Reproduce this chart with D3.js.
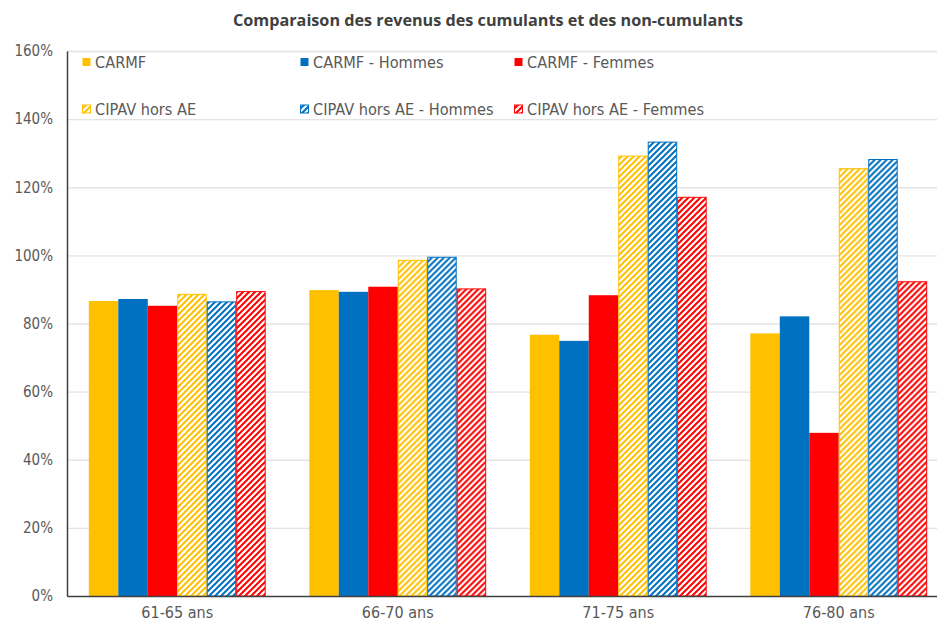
<!DOCTYPE html>
<html>
<head>
<meta charset="utf-8">
<script src="https://cdn.jsdelivr.net/npm/d3@7"></script>
<style>
  body { margin: 0; background: #fff; }
  text { font-family: "DejaVu Sans Condensed", "DejaVu Sans", sans-serif; }
</style>
</head>
<body>
<div id="chart"></div>
<script>
// categories and series
var categories = ["61-65 ans", "66-70 ans", "71-75 ans", "76-80 ans"];
var seriesNames = ["CARMF", "CARMF - Hommes", "CARMF - Femmes",
                   "CIPAV hors AE", "CIPAV hors AE - Hommes", "CIPAV hors AE - Femmes"];
var carmf        = [0.866, 0.898, 0.767, 0.771];
var carmfH       = [0.872, 0.893, 0.749, 0.821];
var carmfF       = [0.852, 0.908, 0.883, 0.479];
var cipav        = [0.887, 0.987, 1.293, 1.256];
var cipavH       = [0.865, 0.996, 1.334, 1.283];
var cipavF       = [0.895, 0.903, 1.172, 0.924];
var yTicks = [0, 0.2, 0.4, 0.6, 0.8, 1.0, 1.2, 1.4, 1.6];

var seriesValues = [carmf, carmfH, carmfF, cipav, cipavH, cipavF];
var colors = ["#FFC000", "#0070C0", "#FF0000", "#FFC000", "#0070C0", "#FF0000"];
var hatched = [false, false, false, true, true, true];

var width = 937, height = 623;
var margin = {left: 67, right: -12, top: 51, bottom: 27};

var svg = d3.select("#chart").append("svg")
            .attr("width", width)
            .attr("height", height);

// hatch patterns
var defs = svg.append("defs");
["#FFC000", "#0070C0", "#FF0000"].forEach(function(c, i){
  var p = defs.append("pattern")
      .attr("id", "hatch" + i)
      .attr("patternUnits", "userSpaceOnUse")
      .attr("width", 6)
      .attr("height", 6);
  p.append("rect").attr("width", 6).attr("height", 6).attr("fill", "#fff");
  p.append("path")
      .attr("d", "M0,6 L6,0 M-1.5,1.5 L1.5,-1.5 M4.5,7.5 L7.5,4.5")
      .attr("stroke", c)
      .attr("stroke-width", 2);
});
var fillFor = function(i){
  return hatched[i] ? "url(#hatch" + (i - 3) + ")" : colors[i];
};

var x0 = d3.scaleBand()
           .domain(categories)
           .range([margin.left, width - margin.right]);
var x1 = d3.scaleBand()
           .domain(d3.range(seriesNames.length))
           .range([0, x0.bandwidth()])
           .paddingOuter(0.74);
var y = d3.scaleLinear()
          .domain([0, 1.6])
          .range([height - margin.bottom, margin.top]);

// gridlines
svg.append("g")
   .selectAll("line")
   .data(yTicks.slice(1))
   .enter()
   .append("line")
   .attr("x1", margin.left)
   .attr("x2", width)
   .attr("y1", function(d){ return y(d) + 0.5; })
   .attr("y2", function(d){ return y(d) + 0.5; })
   .attr("stroke", "#e3e3e3")
   .attr("stroke-width", 1.3);

// bars
var groups = svg.append("g")
   .selectAll("g")
   .data(categories)
   .enter()
   .append("g")
   .attr("transform", function(d){ return "translate(" + x0(d) + ",0)"; });

groups.selectAll("rect")
   .data(function(d, ci){
     return seriesValues.map(function(vals, si){ return {s: si, v: vals[ci]}; });
   })
   .enter()
   .append("rect")
   .attr("x", function(d){ return x1(d.s) + (hatched[d.s] ? 0.5 : 0); })
   .attr("y", function(d){ return y(d.v) + (hatched[d.s] ? 0.5 : 0); })
   .attr("width", function(d){ return x1.bandwidth() - (hatched[d.s] ? 1 : 0); })
   .attr("height", function(d){ return y(0) - y(d.v) - (hatched[d.s] ? 0.5 : 0); })
   .attr("fill", function(d){ return fillFor(d.s); })
   .attr("stroke", function(d){ return hatched[d.s] ? colors[d.s] : "none"; })
   .attr("stroke-width", 1);

// axes
var yAxis = d3.axisLeft(y)
              .tickValues(yTicks)
              .tickFormat(d3.format(".0%"))
              .tickSize(0)
              .tickPadding(14);
var yg = svg.append("g")
   .attr("transform", "translate(" + margin.left + ",0)")
   .call(yAxis);
yg.select(".domain").attr("stroke", "#404040").attr("stroke-width", 1.5);
yg.selectAll("text").attr("fill", "#595959").style("font-size", "15px");

var xAxis = d3.axisBottom(x0).tickSize(0).tickPadding(11);
var xg = svg.append("g")
   .attr("transform", "translate(0," + y(0) + ")")
   .call(xAxis);
xg.select(".domain").attr("stroke", "#404040").attr("stroke-width", 1.5);
xg.selectAll("text").attr("fill", "#595959").style("font-size", "16px");

// title
svg.append("text")
   .attr("x", 488)
   .attr("y", 26)
   .attr("text-anchor", "middle")
   .attr("fill", "#404040")
   .style("font-family", "'Open Sans', sans-serif")
   .style("font-weight", "bold")
   .style("font-size", "16.2px")
   .text("Comparaison des revenus des cumulants et des non-cumulants");

// legend
var legendX = [82, 300, 514];
var legendY = [62, 109];
var legend = svg.append("g")
   .selectAll("g")
   .data(seriesNames)
   .enter()
   .append("g")
   .attr("transform", function(d, i){
     return "translate(" + legendX[i % 3] + "," + legendY[Math.floor(i / 3)] + ")";
   });
legend.append("rect")
   .attr("x", 0.5)
   .attr("y", -4)
   .attr("width", 8)
   .attr("height", 8)
   .attr("fill", function(d, i){ return fillFor(i); })
   .attr("stroke", function(d, i){ return hatched[i] ? colors[i] : "none"; });
legend.append("text")
   .attr("x", 13)
   .attr("y", 0)
   .attr("dy", "0.35em")
   .attr("fill", "#595959")
   .style("font-size", "16.2px")
   .text(function(d){ return d; });
</script>
</body>
</html>
